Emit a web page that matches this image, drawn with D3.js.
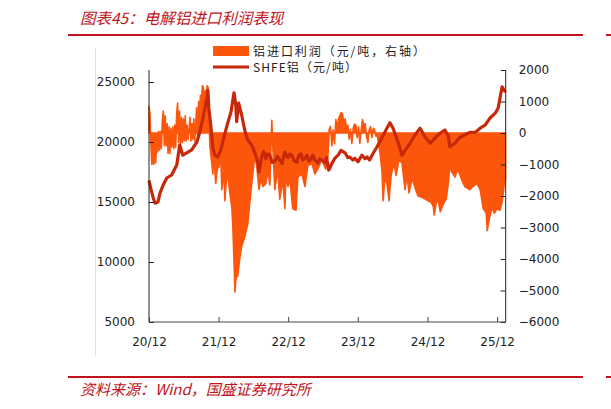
<!DOCTYPE html>
<html><head><meta charset="utf-8">
<script src="https://cdn.jsdelivr.net/npm/d3@7"></script>
<style>body{margin:0;background:#fff}svg{display:block}</style>
</head><body>
<svg id="c" width="611" height="409"></svg>
<script>
// SHFE aluminium price (元/吨, left axis)
const priceDates = ["2020-12-01","2020-12-11","2020-12-22","2021-01-02","2021-01-17","2021-01-28","2021-02-13","2021-03-04","2021-03-30","2021-04-26","2021-05-11","2021-05-27","2021-06-17","2021-07-13","2021-08-09","2021-08-25","2021-09-10","2021-09-20","2021-10-01","2021-10-06","2021-10-11","2021-10-21","2021-11-01","2021-11-11","2021-11-27","2021-12-13","2021-12-29","2022-01-19","2022-02-04","2022-02-20","2022-03-01","2022-03-06","2022-03-16","2022-04-01","2022-04-17","2022-05-03","2022-05-24","2022-06-14","2022-06-25","2022-07-01","2022-07-15","2022-07-25","2022-08-06","2022-08-15","2022-08-27","2022-09-08","2022-09-22","2022-10-05","2022-10-18","2022-10-30","2022-11-14","2022-11-22","2022-11-30","2022-12-10","2022-12-20","2023-01-03","2023-01-16","2023-01-26","2023-02-06","2023-02-16","2023-02-27","2023-03-10","2023-03-20","2023-04-01","2023-04-09","2023-04-20","2023-05-05","2023-05-15","2023-05-26","2023-06-11","2023-06-20","2023-07-02","2023-07-18","2023-08-03","2023-08-20","2023-09-04","2023-09-25","2023-10-10","2023-10-21","2023-11-05","2023-11-16","2023-12-02","2023-12-23","2024-01-08","2024-01-19","2024-02-01","2024-02-14","2024-03-11","2024-04-06","2024-04-27","2024-05-18","2024-06-03","2024-06-29","2024-07-20","2024-08-05","2024-09-01","2024-09-27","2024-10-23","2024-11-19","2024-12-15","2025-01-10","2025-02-06","2025-03-02","2025-03-20","2025-03-28","2025-04-24","2025-05-20","2025-06-15","2025-07-11","2025-08-07","2025-09-03","2025-09-29","2025-10-25","2025-11-21","2025-12-06","2025-12-16","2025-12-27","2026-01-03","2026-01-14"];
const priceValues = [16800,16100,15400,14900,15000,15750,16400,17000,17250,18100,19750,18900,19100,19350,20000,20850,22000,22800,23700,24300,22800,21400,19500,18900,18750,19350,20400,21650,22500,24100,23100,21700,23250,22250,21000,20150,19750,18900,18250,17500,18750,19200,18600,19000,18900,18300,18400,18800,18500,18200,19150,18900,18700,19000,18900,18400,18300,18900,19000,18500,18650,18900,18400,18600,18900,18500,18250,18600,18500,18300,18700,17650,18200,18650,18900,19300,19100,18700,18750,18500,18650,18350,18900,18600,18750,18500,18900,19600,20350,21000,21600,21150,20000,18900,19300,19900,20600,21150,20400,19900,20350,20750,21000,20500,19600,19900,20400,20600,20800,20800,21150,21400,22000,22400,22800,23650,24600,24400,24150];

// Import profit of aluminium (元/吨, right axis)
const profitDates = ["2020-12-01","2020-12-06","2020-12-11","2020-12-16","2020-12-21","2020-12-26","2020-12-31","2021-01-05","2021-01-10","2021-01-15","2021-01-20","2021-01-25","2021-01-30","2021-02-04","2021-02-09","2021-02-14","2021-02-19","2021-02-24","2021-03-01","2021-03-06","2021-03-11","2021-03-16","2021-03-21","2021-03-26","2021-03-31","2021-04-05","2021-04-10","2021-04-15","2021-04-20","2021-04-25","2021-04-30","2021-05-05","2021-05-10","2021-05-15","2021-05-20","2021-05-25","2021-05-30","2021-06-04","2021-06-09","2021-06-14","2021-06-19","2021-06-24","2021-06-29","2021-07-04","2021-07-09","2021-07-14","2021-07-19","2021-07-24","2021-07-29","2021-08-03","2021-08-08","2021-08-13","2021-08-18","2021-08-23","2021-08-28","2021-09-02","2021-09-07","2021-09-12","2021-09-17","2021-09-22","2021-09-27","2021-10-02","2021-10-07","2021-10-12","2021-10-16","2021-10-26","2021-11-01","2021-11-06","2021-11-16","2021-11-27","2021-12-02","2021-12-13","2021-12-18","2021-12-29","2022-01-03","2022-01-13","2022-01-19","2022-01-29","2022-02-09","2022-02-14","2022-02-20","2022-02-25","2022-03-01","2022-03-06","2022-03-11","2022-03-22","2022-04-01","2022-04-17","2022-05-03","2022-05-13","2022-05-24","2022-05-29","2022-06-09","2022-06-19","2022-07-01","2022-07-11","2022-07-22","2022-08-06","2022-08-17","2022-08-27","2022-09-01","2022-09-06","2022-09-12","2022-09-22","2022-10-07","2022-10-18","2022-11-03","2022-11-14","2022-11-19","2022-11-30","2022-12-10","2022-12-25","2023-01-11","2023-01-21","2023-02-11","2023-02-27","2023-03-14","2023-04-04","2023-04-20","2023-05-05","2023-05-26","2023-06-16","2023-06-27","2023-07-04","2023-07-11","2023-07-18","2023-07-25","2023-08-01","2023-08-08","2023-08-15","2023-08-22","2023-08-29","2023-09-05","2023-09-12","2023-09-19","2023-09-26","2023-10-03","2023-10-10","2023-10-17","2023-10-24","2023-10-31","2023-11-07","2023-11-14","2023-11-21","2023-11-28","2023-12-05","2023-12-12","2023-12-19","2023-12-26","2024-01-02","2024-01-09","2024-01-16","2024-01-23","2024-01-30","2024-02-06","2024-02-13","2024-02-20","2024-02-27","2024-03-05","2024-03-12","2024-03-27","2024-04-06","2024-04-12","2024-04-22","2024-05-03","2024-05-13","2024-05-24","2024-06-08","2024-06-19","2024-07-04","2024-07-20","2024-08-05","2024-08-15","2024-08-26","2024-09-11","2024-09-27","2024-10-12","2024-11-03","2024-11-19","2024-12-04","2024-12-20","2024-12-31","2025-01-05","2025-01-16","2025-01-26","2025-02-06","2025-02-22","2025-03-09","2025-03-20","2025-03-28","2025-04-08","2025-04-24","2025-05-09","2025-05-30","2025-06-15","2025-07-11","2025-07-27","2025-08-17","2025-09-03","2025-09-19","2025-10-05","2025-10-10","2025-10-20","2025-11-05","2025-11-16","2025-12-01","2025-12-16","2025-12-27","2026-01-06","2026-01-14"];
const profitValues = [850,600,-400,-1000,-700,-1000,-500,-950,-400,-600,50,-550,50,-500,400,700,-400,550,-400,300,-650,200,-650,150,-450,200,-500,250,-450,600,950,-300,700,-350,500,-300,450,-250,550,-250,250,-200,100,500,-250,300,-200,450,-250,300,800,-150,1000,700,1200,1000,1500,1450,850,1350,1100,1500,1450,500,-400,-950,-1300,-700,-1600,-1000,-1100,-800,-1800,-1200,-2150,-1300,-1400,-1900,-2400,-3000,-4100,-5050,-4700,-4500,-4550,-4000,-3600,-3300,-2900,-2250,-1600,-1350,-700,-1050,-1800,-1450,-1700,-1600,-1200,-1650,-600,400,-500,-1800,-1150,-2100,-1500,-2400,-1400,-1700,-1450,-2400,-2450,-1400,-1300,-1700,-1050,-950,-1300,-1150,-850,-1150,-800,100,210,-400,100,-350,430,100,450,550,650,600,300,450,150,250,-200,120,-330,150,280,250,-150,200,-330,100,430,200,300,-100,-300,100,200,-150,150,100,-100,-50,-650,-1200,-2150,-1350,-1650,-2150,-1350,-950,-1350,-850,-950,-1800,-1350,-1900,-1450,-1750,-2000,-2050,-2100,-2150,-2200,-2330,-2600,-2200,-2150,-2500,-2250,-2100,-1600,-1050,-1250,-1400,-1150,-1500,-1700,-1800,-1700,-1600,-1800,-2400,-2550,-3100,-2750,-2350,-2550,-2400,-2450,-2200,-1700,-1450];

const leftTicks = [5000,10000,15000,20000,25000];
const rightTicks = [2000,1000,0,-1000,-2000,-3000,-4000,-5000,-6000];
const xTickDates = ["2020-12-01","2021-12-01","2022-12-01","2023-12-01","2024-12-01","2025-12-01"];
const legendLabels = ["铝进口利润（元/吨，右轴）","SHFE铝（元/吨）"];
const titleText = "图表45：电解铝进口利润表现";
const sourceText = "资料来源：Wind，国盛证券研究所";

const parse = d3.timeParse("%Y-%m-%d");
const price = priceDates.map((d,i)=>({date:parse(d), v:priceValues[i]}));
const profit = profitDates.map((d,i)=>({date:parse(d), v:profitValues[i]}));

const svg = d3.select("#c");
const X0=149, X1=505.7, Y0=70, Y1=322;
const x = d3.scaleTime().domain([parse("2020-12-01"), parse("2026-01-15")]).range([X0,X1]);
const yL = d3.scaleLinear().domain([5000,26000]).range([Y1,Y0]);
const yR = d3.scaleLinear().domain([-6000,2000]).range([Y1,Y0]);

const red = "#c0141c";
const orange = "#fb560c";
// title & frame lines
svg.append("text").attr("x",80).attr("y",24).attr("fill",red)
  .attr("font-family","'Noto Sans CJK SC'").attr("font-style","italic").attr("font-size",15.5).text(titleText);
svg.append("line").attr("x1",68).attr("x2",583).attr("y1",35).attr("y2",35).attr("stroke",red).attr("stroke-width",2);
svg.append("line").attr("x1",606).attr("x2",611).attr("y1",35).attr("y2",35).attr("stroke",red).attr("stroke-width",2);
svg.append("line").attr("x1",68).attr("x2",583).attr("y1",377).attr("y2",377).attr("stroke",red).attr("stroke-width",2);
svg.append("line").attr("x1",606).attr("x2",611).attr("y1",377).attr("y2",377).attr("stroke",red).attr("stroke-width",2);
svg.append("text").attr("x",80).attr("y",395).attr("fill",red)
  .attr("font-family","'Noto Sans CJK SC'").attr("font-style","italic").attr("font-size",15).text(sourceText);
svg.append("line").attr("x1",95.5).attr("x2",95.5).attr("y1",48).attr("y2",356).attr("stroke","#e2e2e2").attr("stroke-width",1);

// area (right axis)
const area = d3.area().x(d=>x(d.date)).y0(yR(0)).y1(d=>yR(d.v));
svg.append("path").datum(profit).attr("d",area).attr("fill",orange)
  .attr("stroke",orange).attr("stroke-width",1.6).attr("stroke-linejoin","round");

// line (left axis)
const line = d3.line().x(d=>x(d.date)).y(d=>yL(d.v));
svg.append("path").datum(price).attr("d",line).attr("fill","none").attr("stroke","#c8280a").attr("stroke-width",3.2).attr("stroke-linejoin","round");

// axes
const fontAx = "'DejaVu Sans'";
const gL = svg.append("g").attr("transform",`translate(${X0},0)`)
  .call(d3.axisRight(yL).tickValues(leftTicks).tickSize(5).tickFormat(d3.format("d")));
gL.select(".domain").attr("d",`M0,${Y0}V${Y1}`).attr("stroke","#222");
gL.selectAll(".tick line").attr("stroke","#222");
gL.selectAll(".tick text").attr("x",-14).attr("text-anchor","end").attr("font-family",fontAx).attr("font-size",12).attr("fill","#222");

const gR = svg.append("g").attr("transform",`translate(${X1},0)`)
  .call(d3.axisLeft(yR).tickValues(rightTicks).tickSize(5).tickFormat(d3.format("d")));
gR.select(".domain").attr("d",`M0,${Y0}V${Y1}`).attr("stroke","#222");
gR.selectAll(".tick line").attr("stroke","#222");
gR.selectAll(".tick text").attr("x",13).attr("text-anchor","start").attr("font-family",fontAx).attr("font-size",12).attr("fill","#222");

const gB = svg.append("g").attr("transform",`translate(0,${Y1})`)
  .call(d3.axisTop(x).tickValues(xTickDates.map(parse)).tickSize(5).tickFormat(d3.timeFormat("%y/%m")));
gB.select(".domain").attr("d",`M${X0},0H${X1}`).attr("stroke","#444");
gB.selectAll(".tick line").attr("stroke","#444");
gB.selectAll(".tick text").attr("y",24).attr("dy",0).attr("font-family",fontAx).attr("font-size",12).attr("fill","#222");

// legend
svg.append("rect").attr("x",213).attr("y",46).attr("width",36).attr("height",10).attr("fill",orange);
svg.append("line").attr("x1",213).attr("x2",249).attr("y1",67).attr("y2",67).attr("stroke","#c8280a").attr("stroke-width",3);
svg.append("text").attr("x",253).attr("y",55.5).attr("font-family","'Noto Sans CJK SC'").attr("font-size",12).attr("fill","#222")
  .attr("textLength",172).attr("lengthAdjust","spacing").text(legendLabels[0]);
svg.append("text").attr("x",253).attr("y",72).attr("font-family","'Noto Sans CJK SC'").attr("font-size",12).attr("fill","#222")
  .attr("textLength",104).attr("lengthAdjust","spacing").text(legendLabels[1]);
</script>
</body></html>
